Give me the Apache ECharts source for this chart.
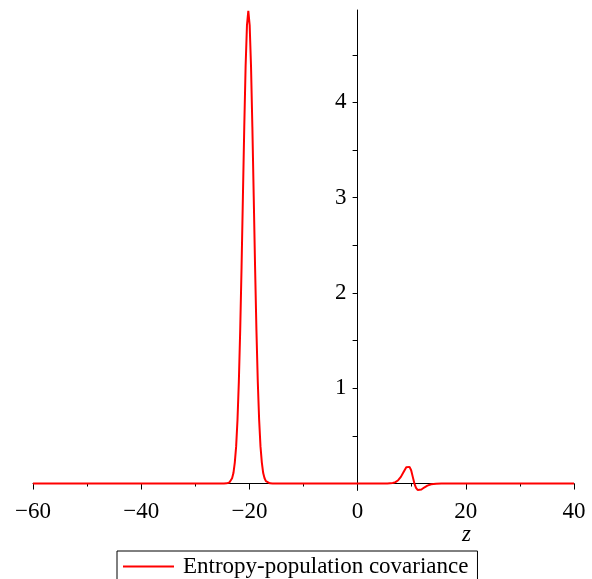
<!DOCTYPE html>
<html>
<head>
<meta charset="utf-8">
<script src="https://cdn.jsdelivr.net/npm/echarts@6/dist/echarts.min.js"></script>
<style>
html,body{margin:0;padding:0;background:#fff;}
#chart{width:592px;height:579px;}
</style>
</head>
<body>
<div id="chart"></div>
<script>
// Data
var seriesName = 'Entropy-population covariance';
var zValues = [-60, -24.7, -24.2, -23.7, -23.45, -23.2, -22.95, -22.7, -22.45, -22.2, -21.95, -21.7, -21.45, -21.2, -20.95, -20.7, -20.45, -20.2,
  -19.95, -19.7, -19.45, -19.2, -18.95, -18.7, -18.45, -18.2, -17.95, -17.7, -17.45, -17.2, -16.95, -16.7, -16.2, -15.7,
  5.5, 6.5, 7, 7.5, 8, 8.5, 9, 9.3, 9.6, 9.9, 10.2, 10.5, 10.8, 11.1, 11.4, 11.8, 12.3, 12.9, 13.6, 14.5, 15.5, 40];
var covValues = [0, 0, 0.002, 0.011, 0.025, 0.055, 0.11, 0.22, 0.39, 0.67, 1.07, 1.61, 2.27, 3.01, 3.74, 4.38, 4.81, 4.96,
  4.81, 4.38, 3.74, 3.01, 2.27, 1.61, 1.07, 0.67, 0.39, 0.22, 0.11, 0.055, 0.025, 0.011, 0.002, 0,
  0, 0.005, 0.015, 0.035, 0.07, 0.12, 0.17, 0.185, 0.175, 0.14, 0.07, 0.0, -0.045, -0.068, -0.072, -0.062, -0.042, -0.022, -0.008, -0.002, 0, 0];
var xTickLabels = [-60, -40, -20, 0, 20, 40];
var yTickValues = [0.5, 1, 1.5, 2, 2.5, 3, 3.5, 4, 4.5];
var yTickLabels = [1, 2, 3, 4];

var FONT = '"Liberation Serif", "Times New Roman", serif';
var data = zValues.map(function (z, i) { return [z, covValues[i]]; });

var GRID_LEFT = 33, GRID_RIGHT = 18, WIDTH = 592;
var X_MIN = -60, X_MAX = 40;
// y axis sits at z = 0: shift it from the grid's left edge by that distance
var plotW = WIDTH - GRID_LEFT - GRID_RIGHT;
var yAxisShift = (0 - X_MIN) / (X_MAX - X_MIN) * plotW;

var chart = echarts.init(document.getElementById('chart'), null, {renderer: 'canvas'});
chart.setOption({
  animation: false,
  backgroundColor: '#ffffff',
  grid: {left: GRID_LEFT, right: GRID_RIGHT, top: 10, bottom: 88.6, containLabel: false},
  xAxis: {
    type: 'value',
    min: X_MIN, max: X_MAX, interval: 20,
    axisLine: {onZero: true, lineStyle: {color: '#000', width: 1}},
    axisTick: {show: true, inside: false, length: 6, lineStyle: {color: '#000'}},
    minorTick: {show: true, splitNumber: 2, length: 3, lineStyle: {color: '#000'}},
    splitLine: {show: false},
    minorSplitLine: {show: false},
    axisLabel: {
      color: '#000', fontFamily: FONT, fontSize: 23, margin: 10,
      customValues: xTickLabels,
      formatter: function (v) { return String(v).replace('-', '\u2212'); }
    }
  },
  yAxis: {
    type: 'value',
    min: -0.072, max: 4.97,
    position: 'left',
    offset: -yAxisShift,
    axisLine: {onZero: false, lineStyle: {color: '#000', width: 1}},
    axisTick: {show: true, inside: false, length: 5, customValues: yTickValues, lineStyle: {color: '#000'}},
    splitLine: {show: false},
    axisLabel: {
      color: '#000', fontFamily: FONT, fontSize: 23, margin: 11,
      customValues: yTickLabels,
      formatter: function (v) { return String(v); }
    }
  },
  legend: {
    show: true,
    left: 117, top: 551,
    padding: [4, 9, 12, 6],
    borderColor: '#000', borderWidth: 1,
    itemWidth: 51, itemHeight: 2,
    textStyle: {color: '#000', fontFamily: FONT, fontSize: 23, padding: [0, 0, 0, 4]},
    data: [{name: seriesName, icon: 'rect', itemStyle: {color: '#ff0000'}}]
  },
  graphic: [{
    type: 'text', left: 462, top: 523,
    style: {text: 'z', font: 'italic 23px ' + FONT, fill: '#000'}
  }],
  series: [{
    name: seriesName,
    type: 'line',
    data: data,
    symbol: 'none',
    smooth: false,
    lineStyle: {color: '#ff0000', width: 2},
    itemStyle: {color: '#ff0000'},
    z: 1
  }]
});
</script>
</body>
</html>
